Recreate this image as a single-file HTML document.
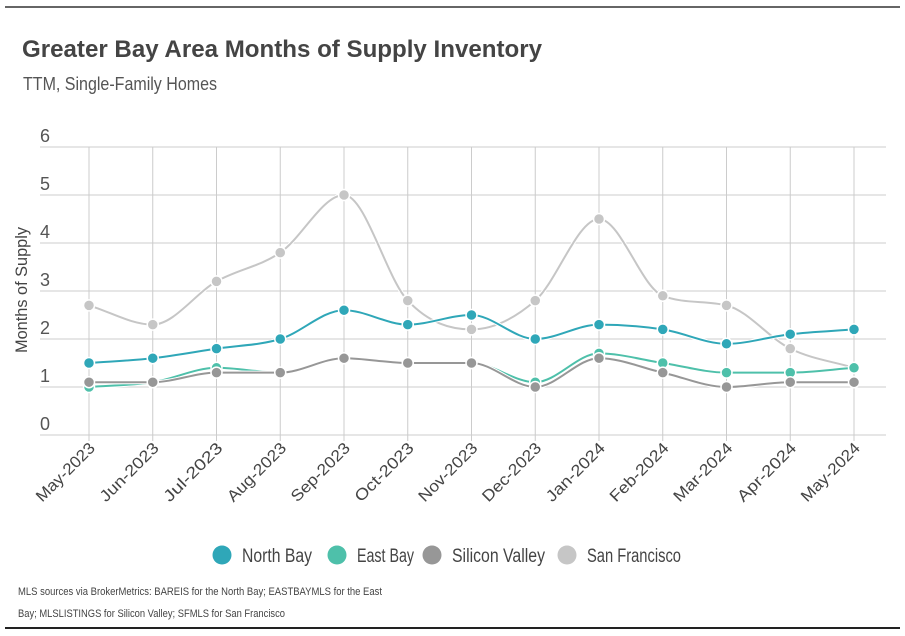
<!DOCTYPE html>
<html><head><meta charset="utf-8"><style>
html,body{margin:0;padding:0;background:#fff;width:905px;height:636px;overflow:hidden}
svg{display:block;font-family:"Liberation Sans",sans-serif}
</style></head><body>
<svg id="chart" width="905" height="636" viewBox="0 0 905 636">
<line x1="5" y1="7" x2="900" y2="7" stroke="#666" stroke-width="2"/>
<text x="22" y="57" font-weight="bold" font-size="24" fill="#444" textLength="520" lengthAdjust="spacingAndGlyphs">Greater Bay Area Months of Supply Inventory</text>
<text x="23" y="90" font-size="18" fill="#555" textLength="194" lengthAdjust="spacingAndGlyphs">TTM, Single-Family Homes</text>
<text transform="translate(27,290) rotate(-90)" text-anchor="middle" font-size="17" fill="#444" textLength="126" lengthAdjust="spacingAndGlyphs">Months of Supply</text>
<g id="grid"></g><g id="series"></g><g id="xlabels"></g>
<g id="legend"></g>
<text x="18" y="595" font-size="11" fill="#444" textLength="364" lengthAdjust="spacingAndGlyphs">MLS sources via BrokerMetrics: BAREIS for the North Bay; EASTBAYMLS for the East</text>
<text x="18" y="617" font-size="11" fill="#444" textLength="267" lengthAdjust="spacingAndGlyphs">Bay; MLSLISTINGS for Silicon Valley; SFMLS for San Francisco</text>
<line x1="5" y1="628" x2="900" y2="628" stroke="#222" stroke-width="2"/>
</svg>
<script>
const categories=["May-2023","Jun-2023","Jul-2023","Aug-2023","Sep-2023","Oct-2023","Nov-2023","Dec-2023","Jan-2024","Feb-2024","Mar-2024","Apr-2024","May-2024"];
const yTicks=[0,1,2,3,4,5,6];
const northBay=[1.5,1.6,1.8,2.0,2.6,2.3,2.5,2.0,2.3,2.2,1.9,2.1,2.2];
const eastBay=[1.0,1.1,1.4,1.3,1.6,1.5,1.5,1.1,1.7,1.5,1.3,1.3,1.4];
const siliconValley=[1.1,1.1,1.3,1.3,1.6,1.5,1.5,1.0,1.6,1.3,1.0,1.1,1.1];
const sanFrancisco=[2.7,2.3,3.2,3.8,5.0,2.8,2.2,2.8,4.5,2.9,2.7,1.8,1.4];
const seriesNames=["North Bay","East Bay","Silicon Valley","San Francisco"];
const seriesColors=["#2fa7b8","#4ec0aa","#979797","#c6c6c6"];
const NS="http://www.w3.org/2000/svg";
const X0=40,X1=886,Y0=435,YS=48;
const xs=i=>89+i*(854-89)/(categories.length-1);
const ys=v=>Y0-v*YS;
function mk(t,a,p){const e=document.createElementNS(NS,t);for(const k in a)e.setAttribute(k,a[k]);p.appendChild(e);return e;}
const grid=document.getElementById('grid');
yTicks.forEach(v=>{
 const l=mk('line',{x1:X0,x2:X1,y1:ys(v),y2:ys(v),stroke:'#ccc','stroke-width':1},grid);
 
 
 const t=mk('text',{x:40,y:ys(v)-5,'font-size':18,fill:'#555'},grid);t.textContent=v;
 
 
});
categories.forEach((c,i)=>{
 const l=mk('line',{x1:xs(i),x2:xs(i),y1:ys(6),y2:Y0+6,stroke:'#ccc','stroke-width':1},grid);
 
 
 const t=mk('text',{x:0,y:0,'font-size':16,fill:'#444','text-anchor':'end',textLength:76,lengthAdjust:'spacingAndGlyphs',transform:`translate(${xs(i)+7},${Y0+14}) rotate(-45)`},document.getElementById('xlabels'));
 t.textContent=c;
 
 
});
function monotone(px,py){
 const n=px.length,d=[],m=[];
 for(let i=0;i<n-1;i++)d.push((py[i+1]-py[i])/(px[i+1]-px[i]));
 for(let i=0;i<n;i++){
  if(i==0)m.push(d[0]);else if(i==n-1)m.push(d[n-2]);
  else m.push(d[i-1]*d[i]<=0?0:(d[i-1]+d[i])/2);
 }
 for(let i=0;i<n-1;i++){if(d[i]==0){m[i]=0;m[i+1]=0;continue;}
  const a=m[i]/d[i],b=m[i+1]/d[i],s=a*a+b*b;if(s>9){const t=3/Math.sqrt(s);m[i]=t*a*d[i];m[i+1]=t*b*d[i];}}
 let p=`M${px[0]},${py[0]}`;
 for(let i=0;i<n-1;i++){const h=(px[i+1]-px[i])/3;
  p+=`C${px[i]+h},${py[i]+m[i]*h} ${px[i+1]-h},${py[i+1]-m[i+1]*h} ${px[i+1]},${py[i+1]}`;}
 return p;
}
const allSeries=[northBay,eastBay,siliconValley,sanFrancisco];
const sg=document.getElementById('series');
const order=[3,1,2,0];
order.forEach(k=>{
 const vals=allSeries[k];const px=vals.map((v,i)=>xs(i)),py=vals.map(ys);
 const g=mk('g',{},sg);
 
 
 mk('path',{d:monotone(px,py),fill:'none',stroke:'#fff','stroke-width':4},g);
 mk('path',{d:monotone(px,py),fill:'none',stroke:seriesColors[k],'stroke-width':2},g);
 vals.forEach((v,i)=>{
  const c=mk('circle',{cx:xs(i),cy:ys(v),r:5.5,fill:seriesColors[k],stroke:'#fff','stroke-width':1.5},g);
  
  
 });
});
const lg=document.getElementById('legend');
const lx=[222,337,432,567];
const lw=[70,57,93,94];
seriesNames.forEach((n,k)=>{
 const g=mk('g',{},lg);
 
 
 mk('circle',{cx:lx[k],cy:555,r:9.5,fill:seriesColors[k]},g);
 const t=mk('text',{x:lx[k]+20,y:562,'font-size':19,fill:'#444',textLength:lw[k],lengthAdjust:'spacingAndGlyphs'},g);t.textContent=n;
});
</script>
</body></html>
